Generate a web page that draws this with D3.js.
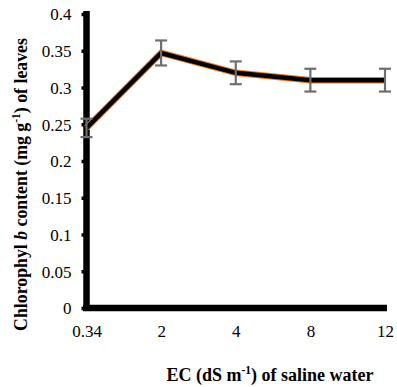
<!DOCTYPE html>
<html>
<head>
<meta charset="utf-8">
<script src="https://cdn.jsdelivr.net/npm/d3@7"></script>
<style>
  body { margin: 0; background: #fff; }
  svg text { font-family: "Liberation Serif", "Times New Roman", Times, serif !important; }
</style>
</head>
<body>
<svg id="chart" width="397" height="387"></svg>
<script>
const categories = ["0.34", "2", "4", "8", "12"];
const chlorophyllB = [0.245, 0.347, 0.320, 0.310, 0.310];
const stdErr = [0.0125, 0.017, 0.0155, 0.0155, 0.0155];
const yTicks = [0, 0.05, 0.1, 0.15, 0.2, 0.25, 0.3, 0.35, 0.4];

const data = categories.map((c, i) => ({ cat: c, value: chlorophyllB[i], err: stdErr[i] }));

const svg = d3.select("#chart");

const x = d3.scalePoint()
    .domain(categories)
    .range([86.5, 385]);

const y = d3.scaleLinear()
    .domain([0, 0.4])
    .range([308, 14]);

// y axis
const yAxis = svg.append("g")
    .attr("transform", "translate(86.5,0)")
    .call(d3.axisLeft(y).tickValues(yTicks).tickFormat(d => d).tickSize(5).tickPadding(10));
yAxis.attr("font-family", null);
yAxis.select(".domain").remove();
yAxis.selectAll(".tick line").attr("stroke", "#000").attr("stroke-width", 3.5);
yAxis.selectAll(".tick text").attr("font-size", 17).attr("fill", "#000").attr("dy", "0.35em");

svg.append("line")
    .attr("x1", 86.5).attr("x2", 86.5)
    .attr("y1", y(0.4) - 3).attr("y2", y(0) + 3)
    .attr("stroke", "#000").attr("stroke-width", 6.5);

// x axis
const xAxis = svg.append("g")
    .attr("transform", `translate(0,${y(0)})`)
    .call(d3.axisBottom(x).tickSize(0).tickPadding(17));
xAxis.attr("font-family", null);
xAxis.select(".domain").remove();
xAxis.selectAll(".tick text").attr("font-size", 17).attr("fill", "#000");

svg.append("line")
    .attr("x1", 83).attr("x2", 387)
    .attr("y1", y(0)).attr("y2", y(0))
    .attr("stroke", "#000").attr("stroke-width", 6.5);

// line with orange halo
const line = d3.line().x(d => x(d.cat)).y(d => y(d.value));
svg.append("path").datum(data)
    .attr("d", line).attr("fill", "none")
    .attr("stroke", "#f07820").attr("stroke-width", 6.5);
svg.append("path").datum(data)
    .attr("d", line).attr("fill", "none")
    .attr("stroke", "#000").attr("stroke-width", 4.5);

// error bars
const eb = svg.append("g").attr("stroke", "#6e6e6e").attr("stroke-width", 2.2);
eb.selectAll(".v").data(data).enter().append("line")
    .attr("x1", d => x(d.cat)).attr("x2", d => x(d.cat))
    .attr("y1", d => y(d.value + d.err)).attr("y2", d => y(d.value - d.err));
["+", "-"].forEach(s => {
  eb.selectAll(".c" + (s === "+" ? "t" : "b")).data(data).enter().append("line")
      .attr("x1", d => x(d.cat) - 6).attr("x2", d => x(d.cat) + 6)
      .attr("y1", d => y(s === "+" ? d.value + d.err : d.value - d.err))
      .attr("y2", d => y(s === "+" ? d.value + d.err : d.value - d.err));
});

// axis titles
const xt = svg.append("text")
    .attr("x", 270).attr("y", 381)
    .attr("text-anchor", "middle")
    .attr("font-size", 18).attr("font-weight", "bold");
xt.append("tspan").text("EC (dS m");
xt.append("tspan").attr("dy", -7).attr("font-size", 11.5).text("-1");
xt.append("tspan").attr("dy", 7).text(") of saline water");

const yt = svg.append("text")
    .attr("transform", "translate(27,184.5) rotate(-90)")
    .attr("text-anchor", "middle")
    .attr("font-size", 17.8).attr("font-weight", "bold");
yt.append("tspan").text("Chlorophyl ");
yt.append("tspan").attr("font-style", "italic").text("b");
yt.append("tspan").text(" content (mg g");
yt.append("tspan").attr("dy", -7).attr("font-size", 11.5).text("-1");
yt.append("tspan").attr("dy", 7).text(") of leaves");
</script>
</body>
</html>
